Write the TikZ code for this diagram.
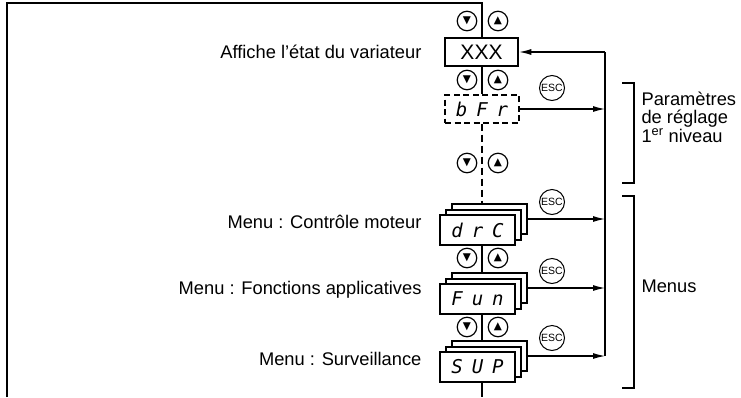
\documentclass[tikz,border=0pt]{standalone}
\usepackage{fontspec}
\setmainfont{Liberation Sans}
\newfontfamily\dejavu{DejaVu Sans}
\newfontfamily\segfont{DejaVu Sans Mono}
\usetikzlibrary{arrows.meta}
\newcommand{\sg}{\hspace{9pt}}
\begin{document}
\begin{tikzpicture}[x=1pt,y=-1pt, line width=1.1pt,
  lbl/.style={font=\fontsize{18.3}{18}\selectfont, inner sep=0pt},
  btn/.style={circle, draw, line width=1.2pt, minimum size=19.5pt, inner sep=0pt, fill=white, font=\dejavu\fontsize{10.5}{10}\selectfont},
  escbtn/.style={circle, draw, line width=1pt, minimum size=25pt, inner sep=0pt, font=\fontsize{10.5}{10}\selectfont},
  disp/.style={draw, line width=2pt, minimum width=75pt, minimum height=30pt, inner sep=0pt, fill=white, font=\segfont\itshape\fontsize{19}{19}\selectfont},
  arr/.style={-{Latex[length=12pt,width=6pt]}}]
\useasboundingbox (0,0) rectangle (741,397);

% axis and right line coordinates
\coordinate (ax) at (482,0);
\coordinate (rtop) at (605,52);
\coordinate (fl) at (7,397);
\coordinate (ft) at (7,3);
\coordinate (axbot) at (482,397);

% displays
\node[disp, line width=2.6pt, minimum width=73pt, minimum height=28pt, font=\fontsize{21}{21}\selectfont] (xxx) at (481.5,52) {XXX};
\node[disp, line width=1.1pt, dash pattern=on 6pt off 3.5pt, minimum width=74pt, minimum height=28pt] (bfr) at (482,109) {b\sg F\sg r};

\foreach \nm/\yy/\txt in {drc/230/d\sg r\sg C, fun/299/F\sg u\sg n, sup/367/S\sg U\sg P}{
  \node[disp] (\nm2) at (489.5,\yy-11) {};
  \node[disp] (\nm1) at (483.5,\yy-5.5) {};
  \node[disp] (\nm) at (477.5,\yy) {\txt};
}

% central axis
\draw (fl) -- (ft) -- (ft -| ax) -- (xxx.north -| ax);
\draw (xxx.south -| ax) -- (bfr.north -| ax);
\draw[dash pattern=on 7pt off 4pt] (bfr.south -| ax) -- (drc2.north -| ax);
\draw (drc.south -| ax) -- (fun2.north -| ax);
\draw (fun.south -| ax) -- (sup2.north -| ax);
\draw (sup.south -| ax) -- (axbot);

% arrow buttons
\foreach \nm/\yy in {a/21, b/80, c/163, d/258, e/327}{
  \node[btn] (\nm d) at (467,\yy) {▼};
  \node[btn] (\nm u) at (498,\yy) {▲};
}

% ESC buttons
\node[escbtn] (esc1) at (552,88) {ESC};
\node[escbtn] (esc2) at (552,202) {ESC};
\node[escbtn] (esc3) at (552,271) {ESC};
\node[escbtn] (esc4) at (552,338) {ESC};

% right return line and arrows
\draw (rtop) -- (sup2.east -| rtop);
\draw[arr] (rtop) -- (xxx.east);
\draw[arr] (bfr.east) -- (bfr.east -| rtop);
\draw[arr] (drc2.east) -- (drc2.east -| rtop);
\draw[arr] (fun2.east) -- (fun2.east -| rtop);
\draw[arr] (sup2.east) -- (sup2.east -| rtop);

% brackets
\coordinate (k1a) at (622,83);
\coordinate (k1b) at (622,183);
\coordinate (k2a) at (622,196);
\coordinate (k2b) at (622,388);
\draw (k1a) -- ++(12,0) -- ++(0,100) -- (k1b);
\draw (k2a) -- ++(12,0) -- ++(0,192) -- (k2b);

% labels
\node[lbl, anchor=east] (t1) at (422,52) {Affiche l’état du variateur};
\node[lbl, anchor=east] (t2) at (422,222) {Menu : Contrôle moteur};
\node[lbl, anchor=east] (t3) at (422,290) {Menu : Fonctions applicatives};
\node[lbl, anchor=east] (t4) at (422,359) {Menu : Surveillance};
\node[lbl, anchor=west, align=left] (t5) at (641,117) {Paramètres\\de réglage\\[1pt]1\textsuperscript{er} niveau};
\node[lbl, anchor=west] (t6) at (641,286) {Menus};
\end{tikzpicture}
\end{document}
